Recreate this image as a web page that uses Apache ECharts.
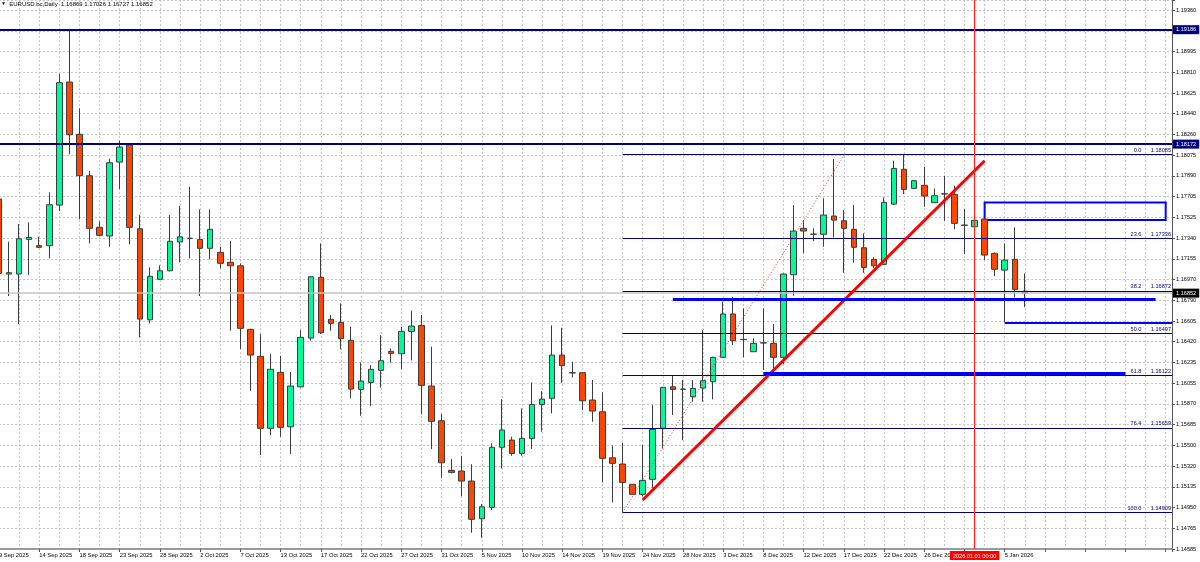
<!DOCTYPE html>
<html><head><meta charset="utf-8">
<script src="https://cdn.jsdelivr.net/npm/echarts@6/dist/echarts.min.js"></script>
<style>html,body{margin:0;padding:0;background:#fff}#c{width:1200px;height:562px}</style>
</head><body><div id="c"></div>
<script>
const symbolName = 'EURUSD.bc,Daily';
const dates = ["9 Sep 2025","10 Sep 2025","11 Sep 2025","12 Sep 2025","14 Sep 2025","15 Sep 2025","16 Sep 2025","17 Sep 2025","18 Sep 2025","19 Sep 2025","21 Sep 2025","22 Sep 2025","23 Sep 2025","24 Sep 2025","25 Sep 2025","26 Sep 2025","28 Sep 2025","29 Sep 2025","30 Sep 2025","1 Oct 2025","2 Oct 2025","3 Oct 2025","5 Oct 2025","6 Oct 2025","7 Oct 2025","8 Oct 2025","9 Oct 2025","10 Oct 2025","13 Oct 2025","14 Oct 2025","15 Oct 2025","16 Oct 2025","17 Oct 2025","19 Oct 2025","20 Oct 2025","21 Oct 2025","22 Oct 2025","23 Oct 2025","24 Oct 2025","26 Oct 2025","27 Oct 2025","28 Oct 2025","29 Oct 2025","30 Oct 2025","31 Oct 2025","2 Nov 2025","3 Nov 2025","4 Nov 2025","5 Nov 2025","6 Nov 2025","7 Nov 2025","9 Nov 2025","10 Nov 2025","11 Nov 2025","12 Nov 2025","13 Nov 2025","14 Nov 2025","16 Nov 2025","17 Nov 2025","18 Nov 2025","19 Nov 2025","20 Nov 2025","21 Nov 2025","23 Nov 2025","24 Nov 2025","25 Nov 2025","26 Nov 2025","27 Nov 2025","28 Nov 2025","30 Nov 2025","1 Dec 2025","2 Dec 2025","3 Dec 2025","4 Dec 2025","5 Dec 2025","7 Dec 2025","8 Dec 2025","9 Dec 2025","10 Dec 2025","11 Dec 2025","12 Dec 2025","14 Dec 2025","15 Dec 2025","16 Dec 2025","17 Dec 2025","18 Dec 2025","19 Dec 2025","21 Dec 2025","22 Dec 2025","23 Dec 2025","24 Dec 2025","25 Dec 2025","26 Dec 2025","28 Dec 2025","29 Dec 2025","30 Dec 2025","31 Dec 2025","1 Jan 2026","2 Jan 2026","4 Jan 2026","5 Jan 2026","6 Jan 2026","7 Jan 2026"];
const opens = [1.17685,1.17021,1.17021,1.17328,1.17272,1.17272,1.17632,1.18722,1.18259,1.17892,1.17435,1.17358,1.18013,1.18165,1.17422,1.16616,1.16974,1.17050,1.17305,1.17335,1.17328,1.17249,1.17213,1.17125,1.17094,1.16531,1.16292,1.15654,1.16150,1.15668,1.16022,1.16454,1.16992,1.16620,1.16593,1.16434,1.15999,1.16061,1.16168,1.16336,1.16315,1.16513,1.16566,1.16029,1.15721,1.15282,1.15276,1.15187,1.14853,1.14954,1.15486,1.15550,1.15432,1.15565,1.15866,1.15920,1.16303,1.16147,1.16147,1.15905,1.15801,1.15393,1.15338,1.15158,1.15069,1.15202,1.15654,1.16022,1.16002,1.15934,1.16011,1.16067,1.16283,1.16667,1.16442,1.16333,1.16412,1.16407,1.16283,1.17015,1.17426,1.17373,1.17373,1.17535,1.17493,1.17417,1.17254,1.17151,1.17107,1.17641,1.17949,1.17780,1.17807,1.17653,1.17730,1.17727,1.17455,1.17440,1.17508,1.17204,1.17056,1.17151,1.16869];
const highs = [1.17703,1.17307,1.17464,1.17479,1.17351,1.17745,1.18793,1.19186,1.18489,1.17934,1.17488,1.18043,1.18202,1.18172,1.17546,1.17080,1.17098,1.17546,1.17623,1.17794,1.17594,1.17594,1.17263,1.17313,1.17116,1.16535,1.16489,1.16312,1.16297,1.16153,1.16525,1.17003,1.17293,1.16658,1.16761,1.16554,1.16235,1.16215,1.16480,1.16363,1.16554,1.16696,1.16658,1.16377,1.15781,1.15382,1.15411,1.15335,1.14983,1.15521,1.15913,1.15579,1.15831,1.16061,1.15984,1.16566,1.16545,1.16244,1.16153,1.16082,1.15973,1.15500,1.15526,1.15160,1.15506,1.15860,1.16020,1.16126,1.16082,1.16082,1.16525,1.16288,1.16776,1.16820,1.16717,1.16451,1.16717,1.16578,1.17025,1.17632,1.17499,1.17426,1.17692,1.18040,1.17588,1.17632,1.17382,1.17169,1.17700,1.18025,1.18085,1.17854,1.17972,1.17780,1.17892,1.17803,1.17597,1.17506,1.17512,1.17213,1.17293,1.17435,1.17026];
const lows = [1.16990,1.16826,1.16578,1.17012,1.17251,1.17160,1.17579,1.18082,1.17506,1.17293,1.17358,1.17263,1.17774,1.17284,1.16460,1.16584,1.16968,1.17045,1.17125,1.17160,1.16826,1.17151,1.17072,1.16519,1.16356,1.15987,1.15417,1.15594,1.15579,1.15426,1.16015,1.16430,1.16489,1.16519,1.16354,1.15920,1.15766,1.15854,1.16014,1.16235,1.16177,1.16256,1.15778,1.15471,1.15216,1.15255,1.15054,1.14729,1.14685,1.14930,1.15299,1.15411,1.15411,1.15471,1.15624,1.15787,1.16058,1.16106,1.15816,1.15712,1.15175,1.14998,1.14909,1.15067,1.15054,1.15122,1.15477,1.15772,1.15550,1.15890,1.15890,1.15911,1.16280,1.16392,1.16283,1.16330,1.16170,1.16185,1.16224,1.16829,1.17204,1.17313,1.17263,1.17346,1.17032,1.17121,1.17032,1.17072,1.17101,1.17632,1.17730,1.17774,1.17617,1.17650,1.17493,1.17417,1.17198,1.17435,1.17145,1.17003,1.16593,1.16814,1.16727];
const closes = [1.17027,1.17033,1.17334,1.17346,1.17258,1.17635,1.18716,1.18255,1.17892,1.17426,1.17364,1.18007,1.18146,1.17435,1.16622,1.17001,1.17050,1.17311,1.17351,1.17339,1.17249,1.17417,1.17116,1.17094,1.16540,1.16303,1.15654,1.16177,1.15663,1.16029,1.16460,1.16997,1.16501,1.16584,1.16448,1.16002,1.16073,1.16177,1.16253,1.16318,1.16513,1.16560,1.16035,1.15716,1.15349,1.15264,1.15187,1.14848,1.14959,1.15486,1.15639,1.15432,1.15565,1.15866,1.15913,1.16303,1.16209,1.16145,1.15898,1.15807,1.15388,1.15344,1.15175,1.15069,1.15193,1.15645,1.16017,1.15999,1.16000,1.16008,1.16076,1.16283,1.16667,1.16430,1.16440,1.16407,1.16410,1.16283,1.17021,1.17402,1.17402,1.17375,1.17544,1.17499,1.17426,1.17258,1.17080,1.17094,1.17656,1.17957,1.17771,1.17848,1.17712,1.17715,1.17732,1.17470,1.17453,1.17497,1.17189,1.17063,1.17145,1.16885,1.16852];
const yTickLabels = ["1.14585","1.14765","1.14950","1.15135","1.15320","1.15500","1.15685","1.15870","1.16055","1.16235","1.16420","1.16605","1.16790","1.16970","1.17155","1.17340","1.17525","1.17705","1.17890","1.18075","1.18260","1.18440","1.18625","1.18810","1.18995","1.19175","1.19360"];
const yMin = 1.14585, yMax = 1.19449, yStep = 0.0018363;
const xMin = 0, xMax = 116.63, xStep = 4;
// chart objects (data space)
const levelLines = [1.19186, 1.18172];
const fibFromBar = 62;
const fibLevels = ["0.0","23.6","38.2","50.0","61.8","76.4","100.0"];
const fibPrices = [1.18085,1.17336,1.16872,1.16497,1.16122,1.15659,1.14909];
const fibBase = [[62,1.14909],[84.1,1.18085]];
const trendLine = [[64,1.15019],[98,1.18025]];
const blueSegments = [[67,115,1.16800],[76,112,1.16144],[100,116.63,1.16593]];
const zoneBox = [[98,1.17656],[116,1.17500]];
const vLineBar = 97, vLineText = '2026.01.01 00:00';

const FONT = 'Liberation Sans';
const last = dates.length - 1;
const candles = dates.map((d, i) => [i, opens[i], closes[i], lows[i], highs[i]]);
const gridStyle = {color: '#c6c6c6', type: [2, 2], width: 1};
const navy = '#000080', blue = '#0000ff';

const mlData = [];
levelLines.forEach(v => mlData.push([
  {coord: [xMin, v], lineStyle: {color: navy, width: 2, type: 'solid'},
   label: {show: true, position: 'end', distance: 1, formatter: v.toFixed(5), backgroundColor: navy, color: '#fff', fontSize: 5.6, fontFamily: FONT, padding: [2, 3, 1, 3]}},
  {coord: [xMax, v]}
]));
mlData.push([
  {coord: [xMin, closes[last]], lineStyle: {color: '#c4c4c4', width: 1.5, type: 'solid'},
   label: {show: true, position: 'end', distance: 1, formatter: closes[last].toFixed(5), backgroundColor: '#000', color: '#fff', fontSize: 5.6, fontFamily: FONT, padding: [2, 3, 1, 3]}},
  {coord: [xMax, closes[last]]}
]);
fibPrices.forEach((p, k) => mlData.push([
  {coord: [fibFromBar, p], lineStyle: {color: navy, width: 1.2, type: 'solid'},
   label: {show: true, position: 'insideEndTop', distance: 1, formatter: fibLevels[k] + '      ' + p.toFixed(5), color: navy, fontSize: 5.6, fontFamily: FONT}},
  {coord: [xMax, p]}
]));
mlData.push([{coord: fibBase[0], lineStyle: {color: '#ff3030', width: 1, type: [1, 2]}, label: {show: false}}, {coord: fibBase[1]}]);
mlData.push([{coord: trendLine[0], lineStyle: {color: '#ff0000', width: 3, type: 'solid'}, label: {show: false}}, {coord: trendLine[1]}]);
blueSegments.forEach((s, k) => mlData.push([
  {coord: [s[0], s[2]], lineStyle: {color: blue, width: k === 2 ? 2 : 3, type: 'solid'}, label: {show: false}},
  {coord: [s[1], s[2]]}
]));
mlData.push([
  {coord: [vLineBar, yMin], lineStyle: {color: '#ff2020', width: 1.2, type: 'solid'},
   label: {show: true, position: 'start', distance: 2, formatter: vLineText, backgroundColor: '#ff0000', color: '#fff', fontSize: 5.6, fontFamily: FONT, padding: [2, 3, 1, 3]}},
  {coord: [vLineBar, yMax]}
]);

const chart = echarts.init(document.getElementById('c'), null, {renderer: 'canvas'});
chart.setOption({
  animation: false,
  backgroundColor: '#ffffff',
  title: {
    text: '{t|▼}  ' + symbolName + '  ' + [opens[last], highs[last], lows[last], closes[last]].map(v => v.toFixed(5)).join(' '),
    left: 1, top: 1, padding: 0,
    textStyle: {fontSize: 6, fontWeight: 'normal', color: '#000', fontFamily: FONT, rich: {t: {fontSize: 5, color: '#000'}}}
  },
  grid: {left: -1, right: 28, top: 0, bottom: 13, containLabel: false, outerBoundsMode: 'none'},
  xAxis: {
    type: 'value', min: xMin, max: xMax, interval: xStep,
    axisLine: {show: true, onZero: false, lineStyle: {color: '#9a9a9a', width: 2}},
    axisTick: {show: true, length: 3, lineStyle: {color: '#555'}},
    axisLabel: {
      show: true, align: 'left', margin: 3, fontSize: 5.8, color: '#000', fontFamily: FONT,
      formatter: v => { const i = Math.round(v); return (Math.abs(v - i) < 0.01 && i % 4 === 0 && i <= last) ? dates[i] : ''; }
    },
    splitLine: {show: true, lineStyle: gridStyle},
    minorTick: {show: false, splitNumber: 2},
    minorSplitLine: {show: true, lineStyle: gridStyle}
  },
  yAxis: {
    type: 'value', position: 'right', min: yMin, max: yMax, interval: yStep, scale: true,
    axisLine: {show: true, onZero: false, lineStyle: {color: '#555', width: 1}},
    axisTick: {show: true, length: 3, lineStyle: {color: '#555'}},
    axisLabel: {
      show: true, margin: 4, fontSize: 5.6, color: '#000', fontFamily: FONT,
      formatter: v => { const k = (v - yMin) / yStep; const r = Math.round(k); return Math.abs(k - r) < 0.03 ? (yTickLabels[r] || '') : ''; }
    },
    splitLine: {show: true, lineStyle: gridStyle}
  },
  series: [
    {
      type: 'candlestick', name: symbolName, data: candles, barWidth: 6, z: 2,
      itemStyle: {color: '#00fa9a', color0: '#ff4500', borderColor: '#3c3c3c', borderColor0: '#3c3c3c', borderColorDoji: '#3c3c3c', borderWidth: 1}
    },
    {
      type: 'line', data: [], clip: false, silent: true, z: 5,
      markLine: {silent: true, precision: 5, symbol: ['none', 'none'], animation: false, lineStyle: {type: 'solid'}, data: mlData},
      markArea: {silent: true, animation: false, data: [[
        {coord: zoneBox[0], itemStyle: {color: 'rgba(0,0,0,0)', borderColor: blue, borderWidth: 2}, label: {show: false}},
        {coord: zoneBox[1]}
      ]]}
    }
  ]
});
</script></body></html>
